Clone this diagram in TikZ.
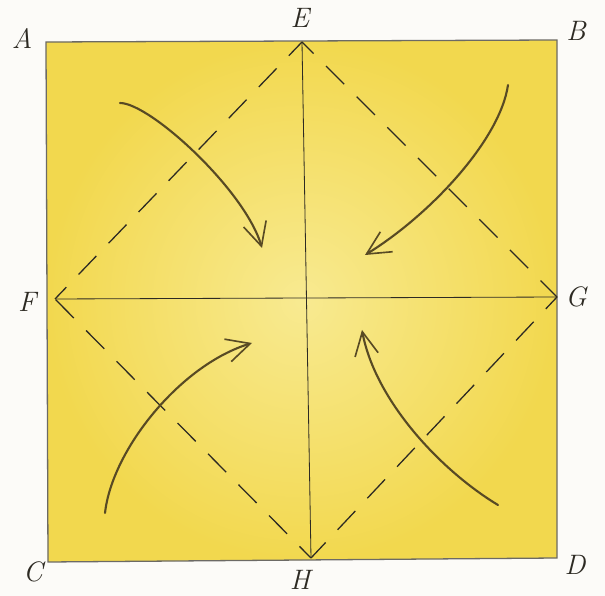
\documentclass[tikz,border=0pt]{standalone}
\usepackage{tikz}
\usepackage{xcolor}
\usetikzlibrary{arrows.meta}

\definecolor{paper}{RGB}{252,251,248}
\definecolor{wash}{RGB}{242,216,78}
\definecolor{washlight}{RGB}{248,234,145}
\definecolor{ink}{RGB}{45,42,35}
\definecolor{pencil}{RGB}{88,74,36}

\begin{document}
\begin{tikzpicture}[
  x=0.03cm, y=-0.03cm,
  edge/.style={draw=ink!70, line width=1.1pt},
  fold/.style={ink, line width=0.7pt},
  crease/.style={ink, line width=1.1pt, dash pattern=on 22pt off 15pt, dash phase=8pt},
  turn/.style={pencil, line width=1.8pt, line cap=round, -{Straight Barb[length=20pt,width=20pt,line width=1.4pt]}},
  lab/.style={font=\fontsize{24}{26}\selectfont\itshape, text=ink}
]
  \useasboundingbox (0,0) rectangle (605,596);
  \fill[paper] (0,0) rectangle (605,596);

  % Square
  \coordinate (A) at (46,42);
  \coordinate (B) at (557,40);
  \coordinate (C) at (48,562);
  \coordinate (D) at (557,558);
  \coordinate (E) at (302,42);
  \coordinate (F) at (55,299);
  \coordinate (G) at (557,297);
  \coordinate (H) at (311,558);

  \shade[inner color=washlight, outer color=wash] (A) -- (B) -- (D) -- (C) -- cycle;
  \draw[edge] (C) -- (A) -- (B) -- (D) -- cycle;

  % Folds
  \draw[fold] (E) -- (H);
  \draw[fold] (F) -- (G);
  \draw[crease] (E) -- (G);
  \draw[crease] (G) -- (H);
  \draw[crease] (H) -- (F);
  \draw[crease] (F) -- (E);

  % Labels
  \node[lab] (lA) at (22,38) {A};
  \node[lab] (lB) at (576,31) {B};
  \node[lab] (lC) at (33,572) {C};
  \node[lab] (lD) at (575,565) {D};
  \node[lab] (lE) at (300,18) {E};
  \node[lab] (lF) at (27,302) {F};
  \node[lab] (lG) at (576,297) {G};
  \node[lab] (lH) at (300,580) {H};

  % Arrows
  \coordinate (s1) at (120,103);  \coordinate (t1) at (262,248);
  \coordinate (s2) at (508,85);   \coordinate (t2) at (365,255);
  \coordinate (s3) at (105,513);  \coordinate (t3) at (252,343);
  \coordinate (s4) at (498,505);  \coordinate (t4) at (362,330);

  \draw[turn] (s1) .. controls (150,103) and (245,190) .. (t1);
  \draw[turn] (s2) .. controls (500,140) and (430,215) .. (t2);
  \draw[turn] (s3) .. controls (112,450) and (180,365) .. (t3);
  \draw[turn] (s4) .. controls (440,470) and (375,400) .. (t4);
\end{tikzpicture}
\end{document}
